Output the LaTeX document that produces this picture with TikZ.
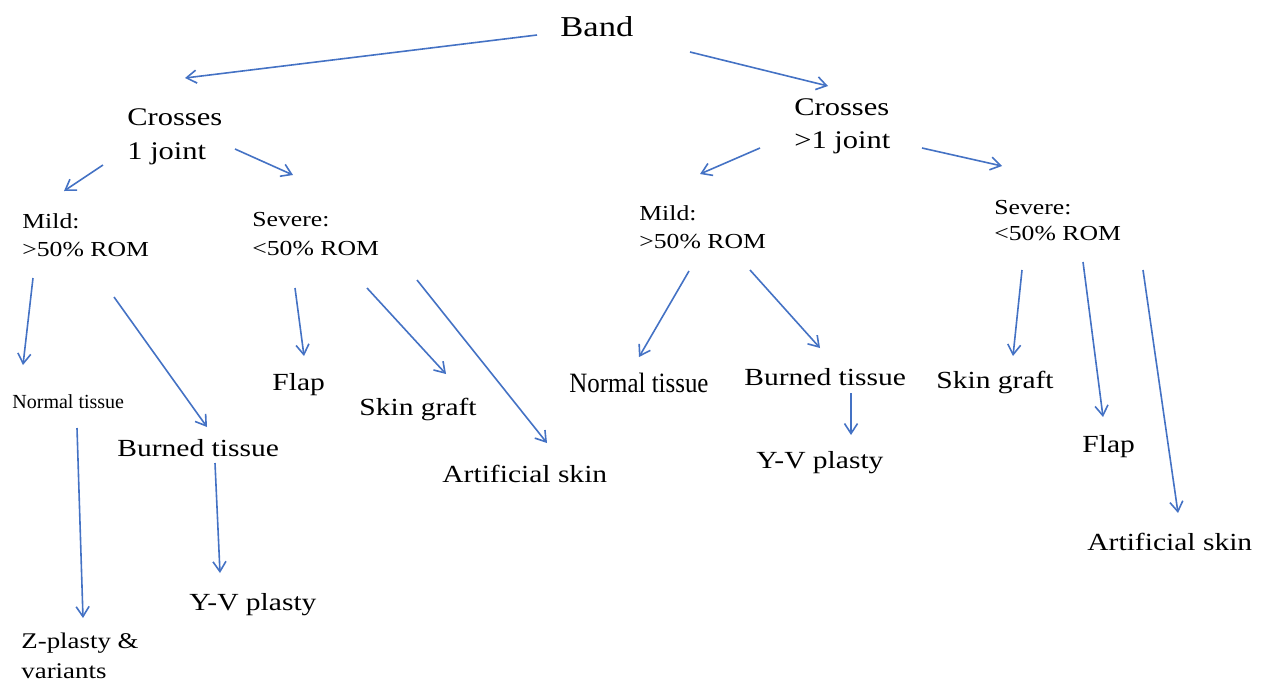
\documentclass[tikz,border=0pt]{standalone}
\usepackage{fontspec}
\setmainfont{Liberation Serif}[FakeStretch=1.2]
\newfontfamily\plainrm{Liberation Serif}
\newfontfamily\narrowrm{Liberation Serif}[FakeStretch=0.89]
\usetikzlibrary{arrows.meta}
\definecolor{arrowblue}{RGB}{68,114,196}
\begin{document}
\begin{tikzpicture}[x=0.5pt,y=-0.5pt,
  lbl/.style={inner sep=0pt,anchor=base west,font=\fontsize{12.3}{15}\selectfont},
  cross/.style={inner sep=0pt,anchor=north west,align=left,font=\fontsize{12.7}{17}\selectfont},
  grade/.style={inner sep=0pt,anchor=north west,align=left,font=\fontsize{10.7}{14.3}\selectfont},
  arr/.style={draw=arrowblue,line width=0.8pt,-{Straight Barb[length=5pt,width=6.5pt]}}]
  \useasboundingbox (0,0) rectangle (1262,682);

  \node[lbl,font=\fontsize{14.4}{17}\selectfont] (band) at (560,36) {Band};
  \node[cross] (c1) at (127,108) {Crosses\\1 joint};
  \node[cross,font=\fontsize{12.7}{16.5}\selectfont] (c2) at (794,98) {Crosses\\>1 joint};
  \node[grade] (mild1) at (22,213) {Mild:\\>50\% ROM};
  \node[grade] (sev1) at (252,212) {Severe:\\<50\% ROM};
  \node[grade,font=\fontsize{10.7}{14}\selectfont] (mild2) at (639,205) {Mild:\\>50\% ROM};
  \node[grade,font=\fontsize{10.7}{13}\selectfont] (sev2) at (994,200) {Severe:\\<50\% ROM};
  % left branch leaves
  \node[lbl,font=\plainrm\fontsize{10}{12}\selectfont] (nt1) at (12,408) {Normal tissue};
  \node[lbl] (bt1) at (117,456) {Burned tissue};
  \node[lbl] (yv1) at (189,610) {Y-V plasty};
  \node[grade,font=\fontsize{11.2}{15}\selectfont] (zp) at (21,633) {Z-plasty \&\\variants};
  \node[lbl] (flap1) at (272,390) {Flap};
  \node[lbl] (sg1) at (359,415) {Skin graft};
  \node[lbl] (as1) at (442,482) {Artificial skin};
  % right branch leaves
  \node[lbl,font=\narrowrm\fontsize{14}{16}\selectfont] (nt2) at (569,392) {Normal tissue};
  \node[lbl] (bt2) at (744,385) {Burned tissue};
  \node[lbl] (yv2) at (756,468) {Y-V plasty};
  \node[lbl] (sg2) at (936,388) {Skin graft};
  \node[lbl] (flap2) at (1082,452) {Flap};
  \node[lbl] (as2) at (1087,550) {Artificial skin};

  \path[every edge/.append style={arr}]
   ([shift={(-23,-1)}]band.base west) edge ([shift={(58,-30)}]c1.north west)
   ([shift={(130,16)}]band.base west) edge ([shift={(34,-12)}]c2.north west)
   ([shift={(-24,57)}]c1.north west) edge ([shift={(42,-22)}]mild1.north west)
   ([shift={(108,41)}]c1.north west) edge ([shift={(41,-37)}]sev1.north west)
   ([shift={(-34,50)}]c2.north west) edge ([shift={(61,-31)}]mild2.north west)
   ([shift={(128,50)}]c2.north west) edge ([shift={(8,-34)}]sev2.north west)
   ([shift={(11,65)}]mild1.north west) edge ([shift={(11,-43)}]nt1.base west)
   ([shift={(92,84)}]mild1.north west) edge ([shift={(90,-29)}]bt1.base west)
   ([shift={(43,76)}]sev1.north west) edge ([shift={(32,-34)}]flap1.base west)
   ([shift={(115,76)}]sev1.north west) edge ([shift={(87,-41)}]sg1.base west)
   ([shift={(165,68)}]sev1.north west) edge ([shift={(105,-39)}]as1.base west)
   ([shift={(65,20)}]nt1.base west) edge ([shift={(62,-15)}]zp.north west)
   ([shift={(98,7)}]bt1.base west) edge ([shift={(31,-37)}]yv1.base west)
   ([shift={(50,66)}]mild2.north west) edge ([shift={(70,-35)}]nt2.base west)
   ([shift={(111,65)}]mild2.north west) edge ([shift={(76,-37)}]bt2.base west)
   ([shift={(107,8)}]bt2.base west) edge ([shift={(95,-33)}]yv2.base west)
   ([shift={(28,70)}]sev2.north west) edge ([shift={(77,-32)}]sg2.base west)
   ([shift={(89,62)}]sev2.north west) edge ([shift={(21,-35)}]flap2.base west)
   ([shift={(149,70)}]sev2.north west) edge ([shift={(91,-37)}]as2.base west);
\end{tikzpicture}
\end{document}
